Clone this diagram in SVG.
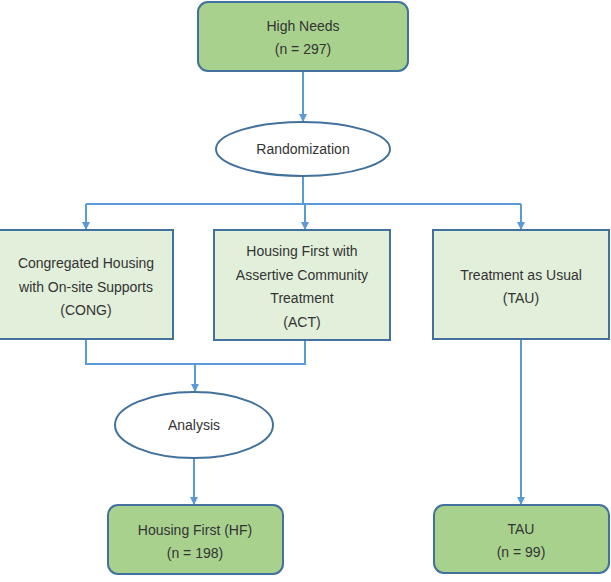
<svg xmlns="http://www.w3.org/2000/svg" width="611" height="582" viewBox="0 0 611 582">
<style>
.term{fill:#a9d18e;stroke:#41719c;stroke-width:2}
.box{fill:#e2efda;stroke:#41719c;stroke-width:2}
.ell{fill:#ffffff;stroke:#41719c;stroke-width:2}
.conn{fill:none;stroke:#5b9bd5;stroke-width:2}
text{font-family:"Liberation Sans",Arial,sans-serif;font-size:14px;fill:#333;text-anchor:middle}
</style>
<defs>
<marker id="arr" markerWidth="8" markerHeight="8" refX="7" refY="4" orient="auto" markerUnits="userSpaceOnUse">
<path d="M0,0 L8,4 L0,8 Z" fill="#5b9bd5"/>
</marker>
</defs>
<rect width="611" height="582" fill="#ffffff"/>
<g id="connectors">
<path class="conn" d="M303,71 V121" marker-end="url(#arr)"/>
<path class="conn" d="M303,176 V204"/>
<path class="conn" d="M86,204 H521"/>
<path class="conn" d="M86,204 V229" marker-end="url(#arr)"/>
<path class="conn" d="M305,204 V229" marker-end="url(#arr)"/>
<path class="conn" d="M521,204 V229" marker-end="url(#arr)"/>
<path class="conn" d="M86,339 V364 H305 V340"/>
<path class="conn" d="M195,364 V391" marker-end="url(#arr)"/>
<path class="conn" d="M194,458 V504" marker-end="url(#arr)"/>
<path class="conn" d="M521,339 V504" marker-end="url(#arr)"/>
</g>
<g id="high-needs">
<rect class="term" x="198" y="2" width="210" height="69" rx="10"/>
<text x="303" y="31">High Needs</text>
<text x="303" y="54">(n = 297)</text>
</g>
<g id="randomization">
<ellipse class="ell" cx="303" cy="149" rx="87" ry="27"/>
<text x="303" y="154">Randomization</text>
</g>
<g id="cong">
<rect class="box" x="-1" y="230" width="174" height="109"/>
<text x="86" y="268">Congregated Housing</text>
<text x="86" y="292">with On-site Supports</text>
<text x="86" y="315">(CONG)</text>
</g>
<g id="act">
<rect class="box" x="214" y="230" width="176" height="110"/>
<text x="302" y="256">Housing First with</text>
<text x="302" y="280">Assertive Community</text>
<text x="302" y="303">Treatment</text>
<text x="302" y="327">(ACT)</text>
</g>
<g id="tau">
<rect class="box" x="433" y="230" width="176" height="109"/>
<text x="521" y="280">Treatment as Usual</text>
<text x="521" y="303">(TAU)</text>
</g>
<g id="analysis">
<ellipse class="ell" cx="194" cy="425" rx="79" ry="33"/>
<text x="194" y="430">Analysis</text>
</g>
<g id="hf">
<rect class="term" x="108" y="505" width="175" height="69" rx="10"/>
<text x="195" y="535">Housing First (HF)</text>
<text x="195" y="558">(n = 198)</text>
</g>
<g id="tau-result">
<rect class="term" x="434" y="505" width="175" height="68" rx="10"/>
<text x="521" y="534">TAU</text>
<text x="521" y="557">(n = 99)</text>
</g>
</svg>
